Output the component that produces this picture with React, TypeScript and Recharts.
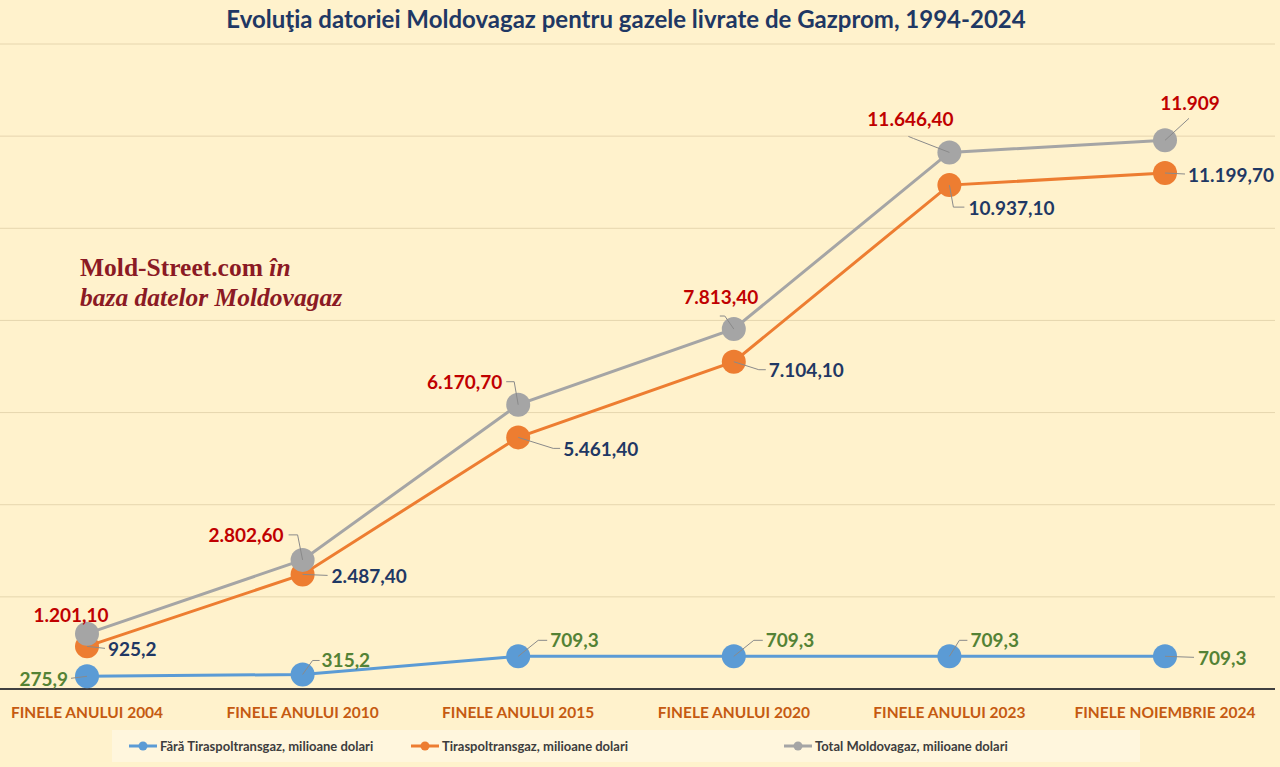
import React from "react";
import { LineChart, Line, XAxis, YAxis, CartesianGrid, Legend } from "recharts";

const categories = [
  "FINELE ANULUI 2004",
  "FINELE ANULUI 2010",
  "FINELE ANULUI 2015",
  "FINELE ANULUI 2020",
  "FINELE  ANULUI 2023",
  "FINELE NOIEMBRIE 2024",
];
const faraTiraspol = [275.9, 315.2, 709.3, 709.3, 709.3, 709.3];
const tiraspol = [925.2, 2487.4, 5461.4, 7104.1, 10937.1, 11199.7];
const totalMoldovagaz = [1201.1, 2802.6, 6170.7, 7813.4, 11646.4, 11909];

const faraLabels = ["275,9", "315,2", "709,3", "709,3", "709,3", "709,3"];
const tiraspolLabels = ["925,2", "2.487,40", "5.461,40", "7.104,10", "10.937,10", "11.199,70"];
const totalLabels = ["1.201,10", "2.802,60", "6.170,70", "7.813,40", "11.646,40", "11.909"];

const yTicks = [0, 2000, 4000, 6000, 8000, 10000, 12000, 14000];

const data = categories.map((cat, i) => ({
  cat,
  fara: faraTiraspol[i],
  tiraspol: tiraspol[i],
  total: totalMoldovagaz[i],
}));

// label placement relative to the point: text offset + leader line path
type Place = { dx: number; dy: number; anchor: "start" | "middle" | "end"; lead?: number[][] };

const faraPlace: Place[] = [
  { dx: -19, dy: 2, anchor: "end", lead: [[-16, 2]] },
  { dx: 19, dy: -15, anchor: "start", lead: [[10, -14], [17, -14]] },
  { dx: 32, dy: -17, anchor: "start", lead: [[20, -16], [29, -16]] },
  { dx: 32, dy: -17, anchor: "start", lead: [[20, -16], [29, -16]] },
  { dx: 21, dy: -17, anchor: "start", lead: [[10, -16], [18, -16]] },
  { dx: 33, dy: 1, anchor: "start", lead: [[29, 1]] },
];
const tiraspolPlace: Place[] = [
  { dx: 21, dy: 2, anchor: "start", lead: [[18, 2]] },
  { dx: 29, dy: 1, anchor: "start", lead: [[25, 1]] },
  { dx: 45, dy: 11, anchor: "start", lead: [[35, 11], [42, 11]] },
  { dx: 35, dy: 8, anchor: "start", lead: [[25, 8], [32, 8]] },
  { dx: 19, dy: 22, anchor: "start", lead: [[4, 22], [15, 22]] },
  { dx: 23, dy: 1, anchor: "start", lead: [[20, 1]] },
];
const totalPlace: Place[] = [
  { dx: -16, dy: -19, anchor: "middle" },
  { dx: -19, dy: -25, anchor: "end", lead: [[-5, -25], [-14, -25]] },
  { dx: -16, dy: -23, anchor: "end", lead: [[-4, -23], [-12, -23]] },
  { dx: -13, dy: -33, anchor: "middle", lead: [[-9, -13], [-14, -13]] },
  { dx: -39, dy: -34, anchor: "middle", lead: [[-36, -14], [-41, -16]] },
  { dx: 25, dy: -38, anchor: "middle", lead: [[24, -22]] },
];

const FONT = "Lato, 'Open Sans', sans-serif";

function makeDot(color: string, labels: string[], place: Place[], labelColor: string) {
  return (props: any) => {
    const { cx, cy, index } = props;
    if (cx == null || cy == null) return <g key={`d-${index}`} />;
    const p = place[index];
    const pts = p.lead ? [[0, 0], ...p.lead].map(([a, b]) => `${cx + a},${cy + b}`).join(" ") : null;
    return (
      <g key={`d-${index}`}>
        <circle cx={cx} cy={cy} r={12} fill={color} />
        {pts && <polyline points={pts} fill="none" stroke="#8a8a8a" strokeWidth={1} />}
        <text
          x={cx + p.dx}
          y={cy + p.dy}
          textAnchor={p.anchor}
          dominantBaseline="central"
          fill={labelColor}
          fontFamily={FONT}
          fontWeight={700}
          fontSize={19}
        >
          {labels[index]}
        </text>
      </g>
    );
  };
}

const legendItems = [
  { name: "Fără Tiraspoltransgaz, milioane dolari", color: "#5B9BD5", left: 16 },
  { name: "Tiraspoltransgaz, milioane dolari", color: "#ED7D31", left: 298 },
  { name: "Total Moldovagaz, milioane dolari", color: "#A5A5A5", left: 671 },
];

function LegendBox() {
  return (
    <div
      style={{
        marginLeft: 112,
        width: 1028,
        height: 32,
        background: "#FFF6DD",
        position: "relative",
        fontFamily: FONT,
        fontSize: 13,
        fontWeight: 700,
        color: "#3d3d3d",
      }}
    >
      {legendItems.map((it) => (
        <div
          key={it.name}
          style={{ position: "absolute", left: it.left, top: 0, height: 32, display: "flex", alignItems: "center" }}
        >
          <svg width={30} height={12}>
            <line x1={1} y1={6} x2={29} y2={6} stroke={it.color} strokeWidth={3} />
            <circle cx={15} cy={6} r={4.5} fill={it.color} />
          </svg>
          <span style={{ marginLeft: 2, whiteSpace: "nowrap" }}>{it.name}</span>
        </div>
      ))}
    </div>
  );
}

export default function App() {
  return (
    <div
      style={{
        position: "absolute",
        left: 0,
        top: 0,
        width: 1280,
        height: 767,
        background: "#FFF2CC",
        overflow: "hidden",
      }}
    >
      <div
        style={{
          position: "absolute",
          left: 0,
          top: 4,
          width: 1252,
          textAlign: "center",
          fontFamily: FONT,
          fontWeight: 700,
          fontSize: 24,
          color: "#1F3864",
        }}
      >
        Evoluţia datoriei Moldovagaz pentru gazele livrate de Gazprom, 1994-2024
      </div>
      <LineChart width={1280} height={767} data={data} margin={{ top: 44, right: 5, bottom: 5, left: 0 }}>
        <CartesianGrid vertical={false} stroke="#E6D6AE" strokeWidth={1} />
        <YAxis hide type="number" domain={[0, 14000]} ticks={yTicks} />
        <XAxis
          dataKey="cat"
          interval={0}
          height={41}
          padding={{ left: 87, right: 110 }}
          axisLine={{ stroke: "#404040", strokeWidth: 2 }}
          tickLine={false}
          tickMargin={12}
          tick={{ fill: "#C55A11", fontSize: 15.5, fontWeight: 700, fontFamily: FONT }}
        />
        <Legend verticalAlign="bottom" content={() => <LegendBox />} />
        <Line
          dataKey="fara"
          name="Fără Tiraspoltransgaz, milioane dolari"
          stroke="#5B9BD5"
          strokeWidth={3}
          dot={makeDot("#5B9BD5", faraLabels, faraPlace, "#548235")}
          activeDot={false}
          isAnimationActive={false}
        />
        <Line
          dataKey="tiraspol"
          name="Tiraspoltransgaz, milioane dolari"
          stroke="#ED7D31"
          strokeWidth={3}
          dot={makeDot("#ED7D31", tiraspolLabels, tiraspolPlace, "#1F3864")}
          activeDot={false}
          isAnimationActive={false}
        />
        <Line
          dataKey="total"
          name="Total Moldovagaz, milioane dolari"
          stroke="#A5A5A5"
          strokeWidth={3}
          dot={makeDot("#A5A5A5", totalLabels, totalPlace, "#C00000")}
          activeDot={false}
          isAnimationActive={false}
        />
      </LineChart>
      <div
        style={{
          position: "absolute",
          left: 80,
          top: 253,
          fontFamily: "'Liberation Serif', serif",
          fontWeight: 700,
          fontSize: 25.5,
          lineHeight: "30px",
          color: "#8B1A24",
        }}
      >
        Mold-Street.com <i>în</i>
        <br />
        <i>baza datelor Moldovagaz</i>
      </div>
    </div>
  );
}
